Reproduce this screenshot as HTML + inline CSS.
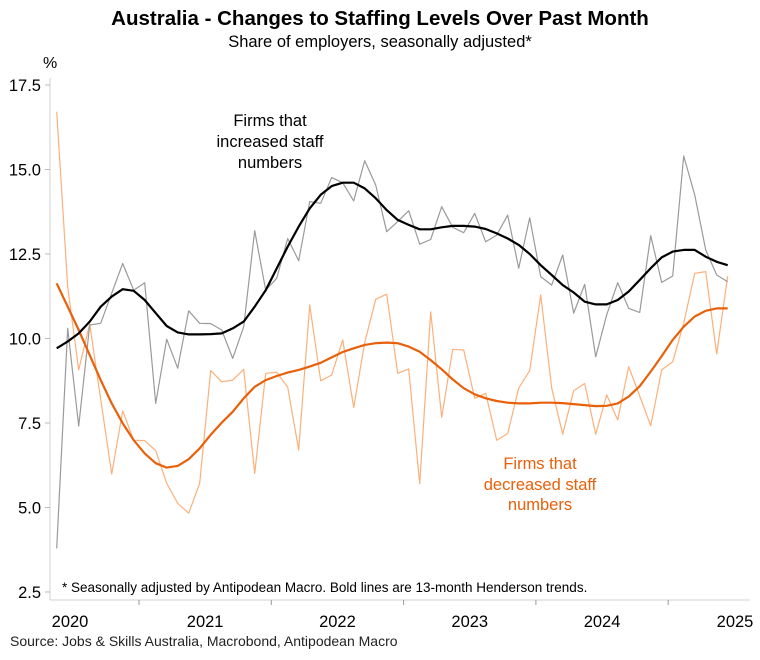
<!DOCTYPE html>
<html><head><meta charset="utf-8">
<style>
body{margin:0;background:#fff;}
svg text{font-family:"Liberation Sans",Arial,sans-serif;}
</style></head>
<body>
<svg id="chart" width="760" height="655" viewBox="0 0 760 655" xmlns="http://www.w3.org/2000/svg">
<text x="380" y="25" text-anchor="middle" font-size="20.5" font-weight="bold" fill="#000">Australia - Changes to Staffing Levels Over Past Month</text>
<text x="380" y="47" text-anchor="middle" font-size="16.5" fill="#000">Share of employers, seasonally adjusted*</text>
<text x="43" y="68" font-size="16" fill="#000">%</text>
<g id="axes"></g>
<g id="series"></g>
<text text-anchor="middle" font-size="16.5" fill="#000"><tspan x="270" y="126">Firms that</tspan><tspan x="270" y="147">increased staff</tspan><tspan x="270" y="168">numbers</tspan></text>
<text text-anchor="middle" font-size="16.5" fill="#e8600a"><tspan x="540" y="469">Firms that</tspan><tspan x="540" y="490">decreased staff</tspan><tspan x="540" y="510">numbers</tspan></text>
<text x="62" y="592" font-size="13.5" fill="#000">* Seasonally adjusted by Antipodean Macro. Bold lines are 13-month Henderson trends.</text>
<text x="10" y="646" font-size="14" fill="#222">Source: Jobs &amp; Skills Australia, Macrobond, Antipodean Macro</text>
</svg>
<script>
const yTicks = [2.5, 5.0, 7.5, 10.0, 12.5, 15.0, 17.5];
const yearLabels = ["2020","2021","2022","2023","2024","2025"];
const increasedRaw = [3.79,10.30,7.41,10.40,10.45,11.34,12.22,11.43,11.65,8.08,9.98,9.12,10.82,10.45,10.44,10.25,9.41,10.35,13.19,11.43,11.78,12.96,12.30,14.05,14.00,14.76,14.61,14.07,15.26,14.54,13.16,13.46,13.78,12.79,12.93,13.90,13.29,13.13,13.70,12.86,13.06,13.65,12.08,13.57,11.83,11.58,12.47,10.75,11.60,9.46,10.70,11.65,10.89,10.77,13.04,11.66,11.85,15.40,14.25,12.62,11.88,11.68];
const increasedTrend = [9.71,9.91,10.15,10.50,10.94,11.24,11.46,11.41,11.14,10.75,10.37,10.18,10.12,10.12,10.13,10.15,10.30,10.50,10.94,11.43,12.07,12.72,13.31,13.85,14.25,14.51,14.61,14.61,14.44,14.15,13.80,13.51,13.36,13.23,13.23,13.29,13.33,13.33,13.31,13.24,13.11,12.96,12.77,12.50,12.17,11.88,11.58,11.36,11.09,11.01,11.01,11.14,11.39,11.73,12.08,12.40,12.57,12.62,12.62,12.42,12.27,12.17];
const decreasedRaw = [16.71,11.53,9.07,10.43,8.2,5.99,7.86,6.99,6.98,6.68,5.72,5.12,4.83,5.72,9.05,8.72,8.77,9.09,6.01,8.97,9.00,8.56,6.70,10.99,8.75,8.92,9.96,7.96,9.88,11.16,11.31,8.97,9.10,5.70,10.79,7.67,9.68,9.66,8.23,8.38,6.99,7.19,8.53,9.05,11.29,8.53,7.17,8.46,8.67,7.17,8.33,7.59,9.17,8.30,7.42,9.07,9.31,10.45,11.93,11.98,9.54,11.85];
const decreasedTrend = [11.63,10.94,10.25,9.51,8.77,8.08,7.49,6.99,6.60,6.31,6.18,6.23,6.43,6.75,7.15,7.51,7.83,8.23,8.57,8.77,8.89,8.99,9.07,9.17,9.28,9.44,9.60,9.71,9.81,9.86,9.88,9.86,9.76,9.61,9.36,9.09,8.79,8.53,8.35,8.23,8.15,8.10,8.08,8.08,8.10,8.10,8.09,8.06,8.03,8.00,8.01,8.08,8.28,8.59,9.02,9.48,9.96,10.35,10.65,10.82,10.89,10.89];

const NS="http://www.w3.org/2000/svg";
function yScale(v){return 85+(17.5-v)*33.8;}
function xScale(i){return 56.7+11.0*i;}
function boundaryX(k){return 139+132.3*k;}
function mk(tag,attrs,parent){const e=document.createElementNS(NS,tag);for(const k in attrs)e.setAttribute(k,attrs[k]);parent.appendChild(e);return e;}

const axes=document.getElementById('axes');
const yAxis=mk('line',{x1:50,y1:78,x2:50,y2:600,stroke:'#d0d0d0','stroke-width':1},axes);


const xAxis=mk('line',{x1:50,y1:600,x2:750,y2:600,stroke:'#d0d0d0','stroke-width':1},axes);


yTicks.forEach(v=>{
  const y=yScale(v);
  const t=mk('line',{x1:45,y1:y,x2:50,y2:y,stroke:'#bbb','stroke-width':1},axes);
  
  
  const l=mk('text',{x:41,y:y+6,'text-anchor':'end','font-size':16.5,fill:'#000'},axes);
  l.textContent=v.toFixed(1);
  
  
});
for(let k=0;k<5;k++){
  const x=boundaryX(k);
  const t=mk('line',{x1:x,y1:600,x2:x,y2:605,stroke:'#999','stroke-width':1},axes);
  
  
}
yearLabels.forEach((lab,k)=>{
  let x;
  if(k===0) x=70; else if(k===yearLabels.length-1) x=735; else x=(boundaryX(k-1)+boundaryX(k))/2;
  const l=mk('text',{x:x,y:627,'text-anchor':'middle','font-size':16.5,fill:'#000'},axes);
  l.textContent=lab;
  
  
});

const series=document.getElementById('series');
function line(data,color,w,name){
  const d=data.map((v,i)=>(i?'L':'M')+xScale(i).toFixed(1)+','+yScale(v).toFixed(1)).join(' ');
  const p=mk('path',{d:d,fill:'none',stroke:color,'stroke-width':w,'stroke-linejoin':'round'},series);
  
  
}
line(decreasedRaw,'#fbb07a',1.2,'decreased-raw-line');
line(increasedRaw,'#9a9a9a',1.2,'increased-raw-line');
line(decreasedTrend,'#e8600a',2.2,'decreased-trend-line');
line(increasedTrend,'#000',2.2,'increased-trend-line');
</script>
</body></html>
